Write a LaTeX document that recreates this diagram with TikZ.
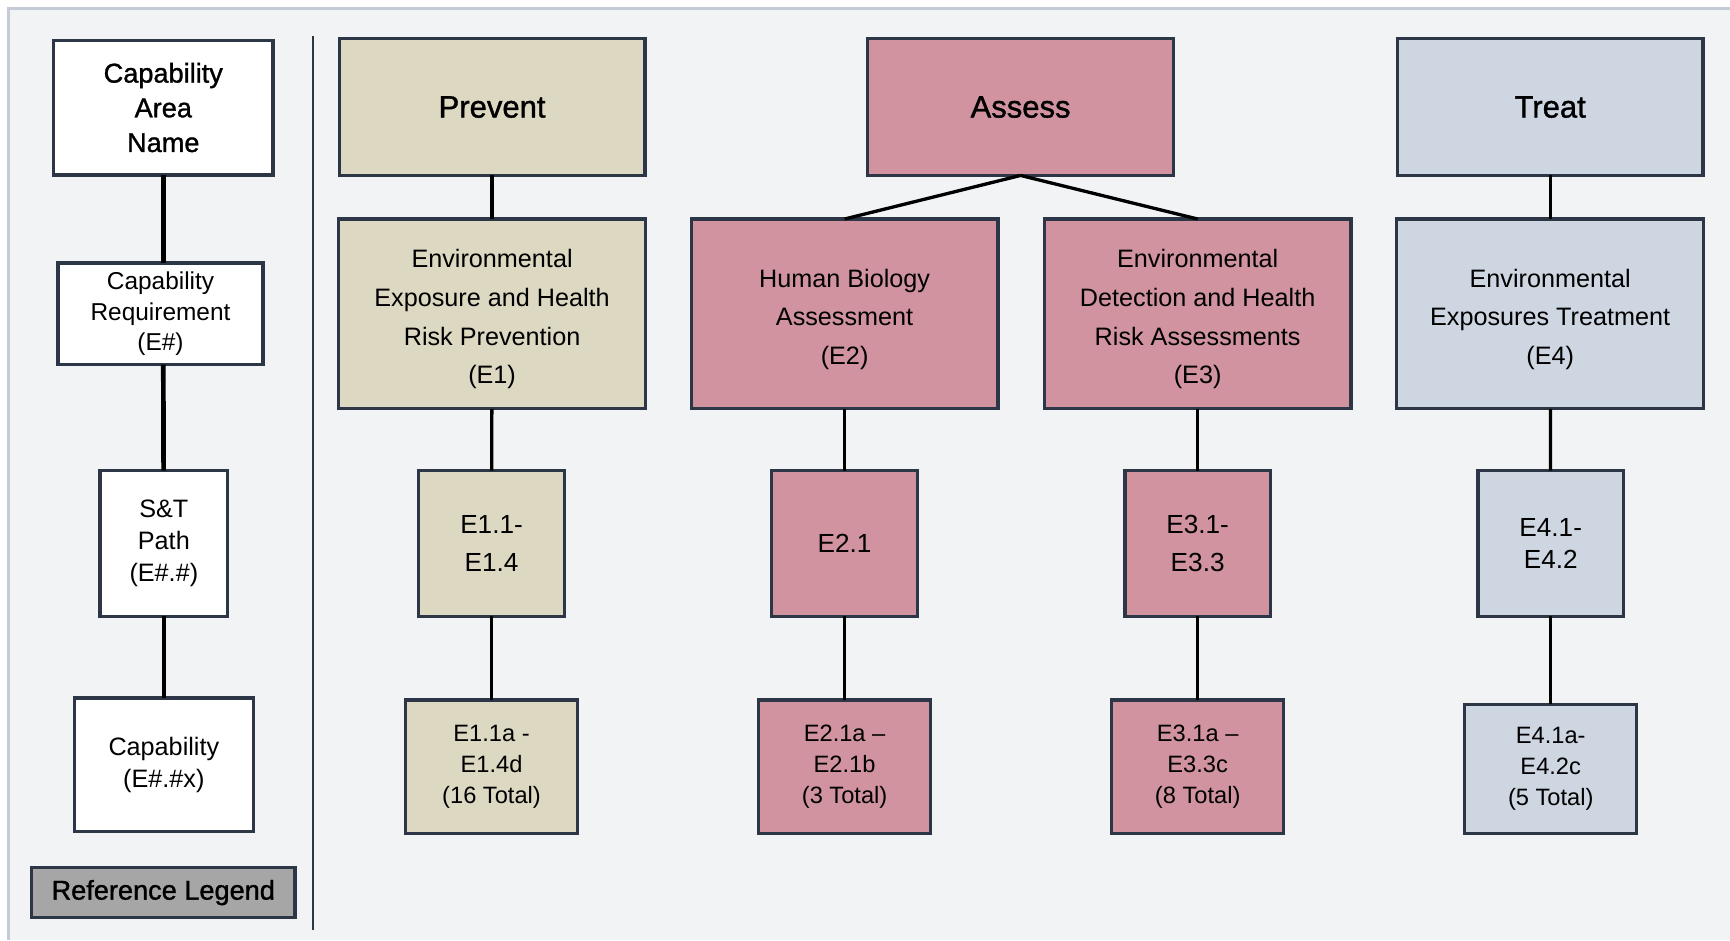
\documentclass[tikz,border=0pt]{standalone}
\usepackage{fontspec}
\setmainfont{Liberation Sans}
\newfontfamily\headfont[FakeBold=1.2]{Liberation Sans}
\definecolor{bgcol}{HTML}{F2F3F5}
\definecolor{framecol}{HTML}{C4CBD6}
\definecolor{edgecol}{HTML}{2C3646}
\definecolor{preventcol}{HTML}{DCD8C1}
\definecolor{assesscol}{HTML}{D0939F}
\definecolor{treatcol}{HTML}{CDD6E1}
\definecolor{legendcol}{HTML}{A6A6A6}
\newcommand{\lift}{\rule{0pt}{15pt}}
\begin{document}
\begin{tikzpicture}[x=0.2mm,y=-0.2mm,
    box/.style={draw=edgecol,line width=0.6mm,inner sep=0pt,outer sep=0pt,align=center},
    headbox/.style={box,minimum width=55.4mm,minimum height=24.8mm,font=\headfont\fontsize{16}{19}\selectfont},
    reqbox/.style={box,minimum width=55.6mm,minimum height=34.4mm,font=\fontsize{13}{19.9}\selectfont},
    pathbox/.style={box,minimum width=26.4mm,minimum height=26.4mm,font=\fontsize{13.5}{19.4}\selectfont},
    capbox/.style={box,minimum width=31.2mm,minimum height=24.2mm,font=\fontsize{12.2}{15.9}\selectfont},
    legline/.style={line width=0.85mm},
    link/.style={line width=0.6mm}]
  \useasboundingbox (0,0) rectangle (1568,852);
  \fill[white] (0,0) rectangle (1568,852);
  \fill[bgcol] (8,8) rectangle (1568,852);
  \draw[framecol,line width=0.5mm] (8,852) -- (8,8) -- (1568,8);
  \draw[edgecol,line width=0.4mm] (284,33) -- (284,843);

  % reference legend
  \node[box,fill=white,minimum width=39.8mm,minimum height=24.4mm,font=\headfont\fontsize{14}{17.9}\selectfont] (area) at (148,97.5) {Capability\\Area\\Name};
  \node[box,fill=white,minimum width=37.2mm,minimum height=18.4mm,font=\fontsize{12.6}{15.6}\selectfont] (req) at (145.5,284.5) {Capability\\Requirement\\(E\#)};
  \node[box,fill=white,minimum width=23.2mm,minimum height=26.4mm,font=\fontsize{13}{16.5}\selectfont] (stpath) at (148.5,492.5) {S\&T\\Path\\(E\#.\#)};
  \node[box,fill=white,minimum width=32.4mm,minimum height=24.2mm,font=\fontsize{13}{16.5}\selectfont] (capab) at (148.5,693) {Capability\\(E\#.\#x)};
  \node[box,fill=legendcol,minimum width=47.8mm,minimum height=9mm,font=\headfont\fontsize{14}{17}\selectfont] (legend) at (148,809) {Reference Legend};
  \draw[legline] (area) -- (area |- req.north);
  \draw[legline] (req.south -| area) -- (stpath);
  \draw[legline] (stpath) -- (capab);

  % capability areas
  \foreach \n/\x/\c/\t in {prevent/446/preventcol/Prevent, assess/925/assesscol/Assess, treat/1405/treatcol/Treat} {
    \node[headbox,fill=\c] (\n) at (\x,97) {\t};
  }
  \foreach \n/\x/\c/\t in {%
      e1/446/preventcol/{\lift Environmental\\Exposure and Health\\Risk Prevention\\(E1)},
      e2/765.5/assesscol/{\lift Human Biology\\Assessment\\(E2)},
      e3/1085.5/assesscol/{\lift Environmental\\Detection and Health\\Risk Assessments\\(E3)},
      e4/1405/treatcol/{\lift Environmental\\Exposures Treatment\\(E4)}} {
    \node[reqbox,fill=\c] (\n) at (\x,284.5) {\t};
  }
  \foreach \n/\x/\c/\t in {%
      e11/445.5/preventcol/{E1.1-\\E1.4},
      e21/765.5/assesscol/{E2.1},
      e31/1085.5/assesscol/{E3.1-\\E3.3}} {
    \node[pathbox,fill=\c] (\n) at (\x,492.5) {\t};
  }
  \node[pathbox,fill=treatcol,font=\fontsize{13.5}{16.5}\selectfont] (e41) at (1405.5,492.5) {E4.1-\\E4.2};
  \foreach \n/\x/\c/\t in {%
      e11a/445.5/preventcol/{E1.1a -\\E1.4d\\(16 Total)},
      e21a/765.5/assesscol/{E2.1a –\\E2.1b\\(3 Total)},
      e31a/1085.5/assesscol/{E3.1a –\\E3.3c\\(8 Total)}} {
    \node[capbox,fill=\c] (\n) at (\x,695) {\t};
  }
  \node[capbox,fill=treatcol,minimum height=23.4mm] (e41a) at (1405.5,697) {E4.1a-\\E4.2c\\(5 Total)};

  \foreach \a/\b in {prevent/e1, e1/e11, e11/e11a, e2/e21, e21/e21a, e3/e31, e31/e31a, treat/e4, e4/e41, e41/e41a} {
    \draw[link] (\a) -- (\b);
  }
  \draw[link] (assess.south) -- (e2.north);
  \draw[link] (assess.south) -- (e3.north);
\end{tikzpicture}
\end{document}
